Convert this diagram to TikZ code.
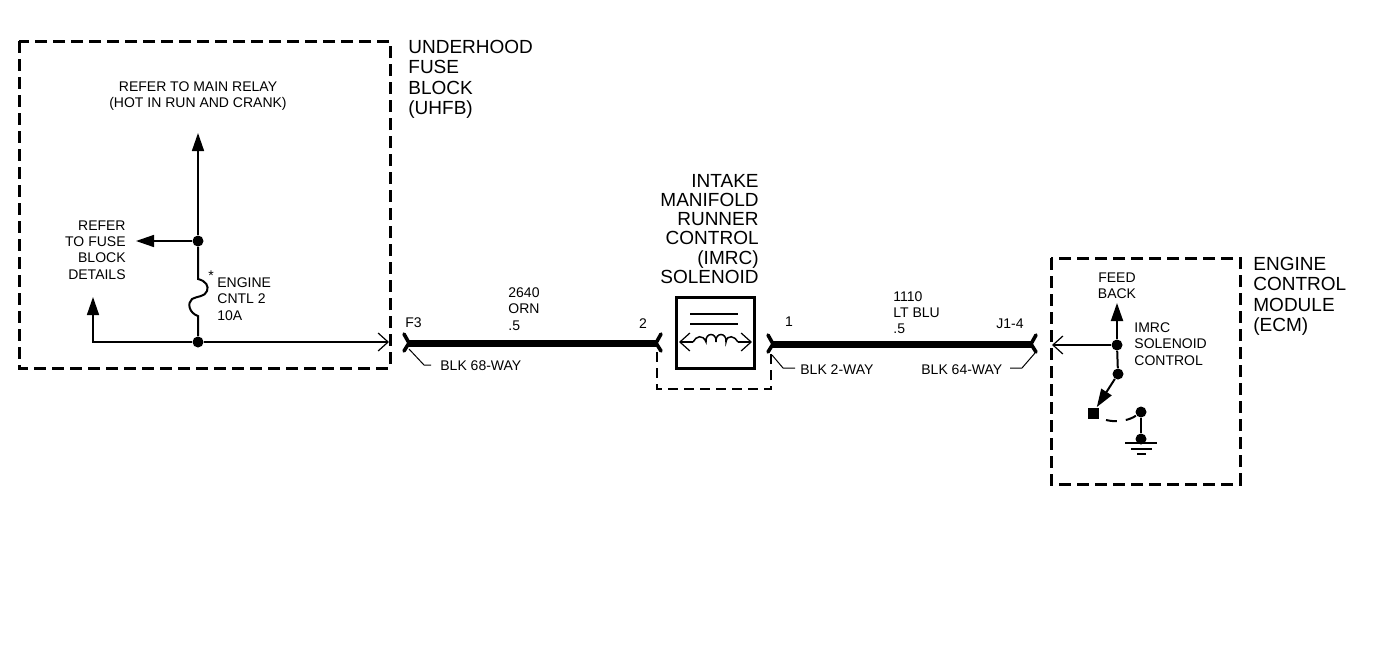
\documentclass[tikz,border=0pt]{standalone}
\usepackage{fontspec}
\setmainfont{Liberation Sans}
\usetikzlibrary{arrows.meta}
\tikzset{
  big/.style={inner sep=0pt,font=\fontsize{9.5}{10.2}\selectfont},
  bigtight/.style={inner sep=0pt,font=\fontsize{9.5}{9.55}\selectfont},
  small/.style={inner sep=0pt,font=\fontsize{7}{8.1}\selectfont},
  modbox/.style={line width=1.5pt,dash pattern=on 6pt off 3pt},
  wire/.style={line width=0.75pt},
  harness/.style={line width=3.5pt},
  flare/.style={line width=1.8pt,line cap=round},
  leader/.style={line width=0.5pt},
  dotnode/.style={circle,fill=black,inner sep=0pt,minimum size=5.5pt},
  solid arrow/.style={-{Triangle[length=9pt,width=6pt]}},
  barb arrow/.style={-{Straight Barb[length=5pt,width=9pt,line width=0.6pt]}},
}
\begin{document}
\begin{tikzpicture}[x=0.5pt,y=-0.5pt]
\useasboundingbox (0,0) rectangle (1392,670);
% module boxes
\draw[modbox] (19,41) rectangle (390,368);
\draw[modbox] (1051,258) rectangle (1240,484);
% module labels
\node[big,align=left,anchor=west] (uhfb) at (408,79.5) {UNDERHOOD\\FUSE\\BLOCK\\(UHFB)};
\node[big,align=left,anchor=west] (ecmlabel) at (1253,296.5) {ENGINE\\CONTROL\\MODULE\\(ECM)};
\node[bigtight,align=right,anchor=east] (imrc) at (759,229) {INTAKE\\MANIFOLD\\RUNNER\\CONTROL\\(IMRC)\\SOLENOID};
% fuse block
\node[small,align=center] (relay) at (198,96) {REFER TO MAIN RELAY\\(HOT IN RUN AND CRANK)};
\node[small,align=right,anchor=east] (fusedetails) at (126,250) {REFER\\TO FUSE\\BLOCK\\DETAILS};
\node[small,align=left,anchor=west] (fuselabel) at (217,299) {ENGINE\\CNTL 2\\10A};
\node[small] (star) at (211,276) {*};
\node[dotnode] (top) at (198,241) {};
\node[dotnode] (bot) at (198,342) {};
\coordinate (up) at (198,133);
\coordinate (left) at (136,241);
\coordinate (fusea) at (198,279);
\coordinate (fuseb) at (198,316);
\coordinate (corner) at (93,342);
\coordinate (upl) at (93,297);
\coordinate (f3in) at (389,342);
\draw[wire,solid arrow] (top) -- (up);
\draw[wire,solid arrow] (top) -- (left);
\draw[wire,line width=1pt] (top) -- (fusea)
  .. controls (206,281) and (209,286) .. (207,291)
  .. controls (205,297) and (197,296) .. (192,299)
  .. controls (187,303) and (189,313) .. (198,316) -- (bot);
\draw[wire,solid arrow] (bot) -- (corner) -- (upl);
\draw[wire,barb arrow] (bot) -- (f3in);
% harness 1
\node[small,anchor=west] (f3) at (405,323) {F3};
\node[small,align=left,anchor=west] (w2640) at (508,309) {2640\\ORN\\.5};
\node[small] (pin2) at (643,324) {2};
\node[small,anchor=west] (blk68) at (440,366) {BLK 68-WAY};
\coordinate (h1a) at (409,343);
\coordinate (h1b) at (656,343);
\draw[harness] (h1a) -- (h1b);
\draw[flare] (h1a) -- ++(-5,-9) (h1a) -- ++(-5,8);
\draw[flare] (h1b) -- ++(5,-9) (h1b) -- ++(5,8);
\coordinate (l68) at (409,349);
\coordinate (l68b) at (424,365);
\coordinate (l68c) at (431,365);
\draw[leader] (l68) -- (l68b) -- (l68c);
% solenoid
\node[draw,line width=1.7pt,minimum width=39pt,minimum height=35.5pt,inner sep=0pt] (sol) at (715.5,333) {};
\draw[line width=1pt] (690,314) -- (738,314) (690,324) -- (738,324);
\coordinate (ca) at (679,342);
\coordinate (cb) at (752,342);
\draw[wire,barb arrow] (693,342) -- (ca);
\draw[wire,barb arrow] (738,342) -- (cb);
\draw[wire] (693,342)
  .. controls (696,336) and (703,334) .. (706,342)
  .. controls (705,332) and (717,332) .. (716,342)
  .. controls (715,332) and (727,332) .. (726,342)
  .. controls (727,334) and (735,336) .. (738,342);
\coordinate (da) at (657,352);
\coordinate (db) at (657,389);
\coordinate (dc) at (771,389);
\coordinate (dd) at (771,354);
\draw[line width=0.6pt,dash pattern=on 5pt off 3pt] (da) -- (db) -- (dc) -- (dd);
% harness 2
\node[small] (pin1) at (789,322) {1};
\node[small,align=left,anchor=west] (w1110) at (893,312.5) {1110\\LT BLU\\.5};
\node[small,anchor=east] (j14) at (1024,324) {J1-4};
\node[small,anchor=west] (blk2) at (800,370) {BLK 2-WAY};
\node[small,anchor=west] (blk64) at (921,370) {BLK 64-WAY};
\coordinate (h2a) at (773,344);
\coordinate (h2b) at (1031,344);
\draw[harness] (h2a) -- (h2b);
\draw[flare] (h2a) -- ++(-5,-9) (h2a) -- ++(-5,8);
\draw[flare] (h2b) -- ++(5,-9) (h2b) -- ++(5,8);
\coordinate (l2) at (772,355);
\coordinate (l2b) at (783,368);
\coordinate (l2c) at (795,368);
\draw[leader] (l2) -- (l2b) -- (l2c);
\coordinate (l64) at (1035,353);
\coordinate (l64b) at (1022,368);
\coordinate (l64c) at (1010,368);
\draw[leader] (l64) -- (l64b) -- (l64c);
% ECM
\node[small,align=center] (feed) at (1117,286) {FEED\\BACK};
\node[small,align=left,anchor=west] (ctrl) at (1134,344) {IMRC\\SOLENOID\\CONTROL};
\node[dotnode] (ej) at (1117,345) {};
\node[dotnode] (sw) at (1118,374) {};
\node[dotnode,rectangle,minimum size=5.5pt] (swc) at (1093,413) {};
\node[dotnode] (gtop) at (1141,412) {};
\node[dotnode] (gbot) at (1141,439) {};
\coordinate (fb) at (1117,303);
\coordinate (j1in) at (1052,345);
\draw[wire,barb arrow] (ej) -- (j1in);
\draw[wire,line width=1pt,solid arrow] (ej) -- (fb);
\draw[wire,line width=1pt] (ej) -- (sw);
\draw[wire,line width=1pt,solid arrow] (sw) -- (swc);
\draw[line width=1pt,dash pattern=on 5.5pt off 4.5pt] (1106,420) .. controls (1118,423) and (1130,420) .. (gtop);
\draw[wire,line width=1pt] (gtop) -- (gbot);
\coordinate (ga) at (1125,443);
\coordinate (gb) at (1157,443);
\coordinate (gc) at (1131,449);
\coordinate (gd) at (1152,449);
\coordinate (ge) at (1137,454);
\coordinate (gf) at (1146,454);
\draw[wire] (ga) -- (gb) (gc) -- (gd) (ge) -- (gf);
\end{tikzpicture}
\end{document}
